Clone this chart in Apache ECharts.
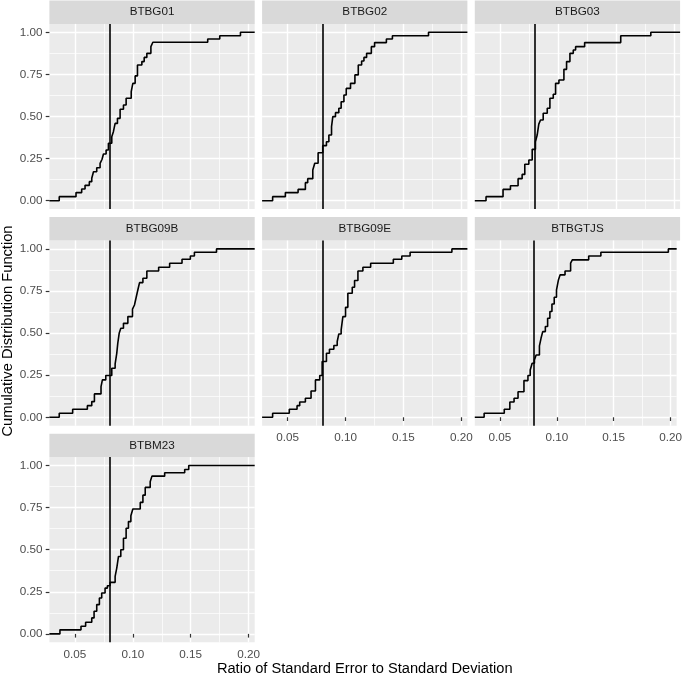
<!DOCTYPE html>
<html>
<head>
<meta charset="utf-8">
<script src="https://cdn.jsdelivr.net/npm/echarts@6/dist/echarts.min.js"></script>
<style>
html,body{margin:0;padding:0;background:#fff;}
#chart{width:685px;height:676px;}
</style>
</head>
<body>
<div id="chart"></div>
<script>
// ---- data (ECDF step positions and levels) ----
const panelNames = ['BTBG01', 'BTBG02', 'BTBG03', 'BTBG09B', 'BTBG09E', 'BTBGTJS', 'BTBM23'];
const xTicks = [0.05, 0.10, 0.15, 0.20];
const xMinorTicks = [0.075, 0.125, 0.175];
const yTicks = [0, 0.25, 0.5, 0.75, 1];
const yMinorTicks = [0.125, 0.375, 0.625, 0.875];
const refLine = 0.08;
const xLimits = [0.0279, 0.2053];
const yLimits = [-0.05, 1.05];
const xTitle = 'Ratio of Standard Error to Standard Deviation';
const yTitle = 'Cumulative Distribution Function';

const btbg01X = [0.0364,0.0509,0.0558,0.0587,0.0624,0.0645,0.066,0.0688,0.0717,0.0734,0.0746,0.0769,0.0789,0.0818,0.0832,0.0847,0.0867,0.089,0.0919,0.0942,0.0986,0.100,0.102,0.104,0.1078,0.1098,0.1121,0.1156,0.1173,0.1647,0.1751,0.193];
const btbg01Y = [0.024,0.048,0.069,0.091,0.113,0.133,0.172,0.196,0.222,0.246,0.277,0.301,0.341,0.380,0.41,0.459,0.489,0.543,0.568,0.608,0.648,0.697,0.741,0.806,0.826,0.851,0.875,0.915,0.941,0.96,0.98,1.0];

const btbg02X = [0.037,0.048,0.059,0.0653,0.0673,0.0717,0.0734,0.0763,0.0803,0.0835,0.0856,0.0879,0.089,0.0913,0.0942,0.0962,0.0986,0.1006,0.1043,0.1081,0.111,0.1139,0.1159,0.1182,0.1223,0.1251,0.1353,0.1405,0.1717];
const btbg02Y = [0.024,0.048,0.067,0.107,0.131,0.182,0.222,0.285,0.327,0.350,0.390,0.44,0.499,0.523,0.549,0.588,0.628,0.667,0.697,0.747,0.806,0.83,0.851,0.875,0.915,0.939,0.96,0.98,1.0];

const btbg03X = [0.0376,0.0523,0.0587,0.0653,0.0688,0.0711,0.0746,0.0775,0.0803,0.0818,0.0832,0.0847,0.087,0.0905,0.0928,0.0957,0.0977,0.1006,0.1049,0.1072,0.1101,0.113,0.115,0.1228,0.154,0.18];
const btbg03Y = [0.024,0.067,0.089,0.131,0.156,0.216,0.242,0.305,0.35,0.39,0.455,0.479,0.519,0.549,0.608,0.632,0.697,0.717,0.78,0.826,0.875,0.895,0.915,0.939,0.98,1.0];

const btbg09bX = [0.0364,0.048,0.0607,0.0645,0.0668,0.0725,0.0737,0.0766,0.0818,0.0847,0.0861,0.087,0.0882,0.0896,0.0919,0.0957,0.0997,0.1014,0.1029,0.1043,0.1058,0.1087,0.1121,0.1223,0.1318,0.1425,0.1497,0.1532,0.1723];
const btbg09bY = [0.024,0.048,0.069,0.093,0.139,0.182,0.222,0.248,0.291,0.317,0.38,0.44,0.499,0.529,0.558,0.598,0.642,0.667,0.713,0.756,0.8,0.826,0.869,0.891,0.915,0.939,0.958,0.98,1.0];

const btbg09eX = [0.037,0.0514,0.0581,0.0604,0.0653,0.0702,0.074,0.0777,0.0798,0.0835,0.0861,0.0899,0.0928,0.0942,0.0962,0.0977,0.1,0.102,0.1058,0.1078,0.1107,0.115,0.1217,0.1413,0.1486,0.1558,0.1919];
const btbg09eY = [0.024,0.048,0.069,0.091,0.113,0.156,0.222,0.248,0.331,0.38,0.404,0.426,0.45,0.495,0.519,0.598,0.653,0.737,0.772,0.812,0.869,0.891,0.915,0.939,0.958,0.98,1.0];

const btbgtjsX = [0.0361,0.0538,0.0587,0.0624,0.0659,0.0711,0.0746,0.0766,0.0783,0.0803,0.0818,0.0847,0.0861,0.0876,0.0899,0.0919,0.0939,0.0957,0.0977,0.0997,0.1014,0.1029,0.1072,0.1121,0.1136,0.128,0.1387,0.198];
const btbgtjsY = [0.024,0.048,0.091,0.113,0.152,0.218,0.248,0.281,0.321,0.341,0.37,0.424,0.469,0.509,0.539,0.588,0.628,0.673,0.713,0.756,0.816,0.846,0.869,0.915,0.935,0.958,0.98,1.0];

const btbm23X = [0.037,0.0552,0.0592,0.0645,0.0665,0.0688,0.0711,0.0731,0.076,0.078,0.0803,0.0847,0.0861,0.0876,0.0896,0.0919,0.0942,0.0962,0.0983,0.1,0.1064,0.1087,0.1107,0.115,0.1165,0.1275,0.1448,0.1483];
const btbm23Y = [0.024,0.045,0.069,0.095,0.134,0.174,0.213,0.243,0.272,0.286,0.306,0.341,0.391,0.46,0.5,0.568,0.627,0.667,0.702,0.742,0.781,0.824,0.87,0.903,0.937,0.957,0.976,1.0];

const panelX = [btbg01X, btbg02X, btbg03X, btbg09bX, btbg09eX, btbgtjsX, btbm23X];
const panelY = [btbg01Y, btbg02Y, btbg03Y, btbg09bY, btbg09eY, btbgtjsY, btbm23Y];

// ---- layout (ggplot facet_wrap look) ----
const FONT = '"Liberation Sans", Arial, Helvetica, sans-serif';
const colLeft = [49.4, 262.1, 474.8];
const rowTop = [23.9, 240.5, 457.1];
const panelW = 205.3, panelH = 185.2, stripH = 23.4;
const showXLabels = [false, false, false, false, true, true, true];

const grids = [], xAxes = [], yAxes = [], series = [], graphics = [];

panelNames.forEach((name, i) => {
  const col = i % 3, row = Math.floor(i / 3);
  const left = colLeft[col], top = rowTop[row];
  grids.push({
    left: left, top: top, width: panelW, height: panelH,
    show: true, backgroundColor: '#EBEBEB', borderWidth: 0, containLabel: false
  });
  const showY = col === 0;
  const showX = showXLabels[i];
  // major x axis
  xAxes.push({
    type: 'value', gridIndex: i, position: 'bottom',
    min: xLimits[0], max: xLimits[1],
    axisLine: { show: false },
    axisTick: { show: showX, customValues: xTicks, length: 3.7, lineStyle: { color: '#333333', width: 1.2 } },
    axisLabel: { show: showX, customValues: xTicks, margin: 6, fontSize: 11.7, color: '#4D4D4D', fontFamily: FONT,
                 formatter: v => v.toFixed(2) },
    splitLine: { show: true, lineStyle: { color: '#FFFFFF', width: 1.42 } }
  });
  // minor x axis (grid lines only)
  xAxes.push({
    type: 'value', gridIndex: i, position: 'top',
    min: xLimits[0], max: xLimits[1],
    axisLine: { show: false },
    axisTick: { show: false, customValues: xMinorTicks },
    axisLabel: { show: false, customValues: xMinorTicks },
    splitLine: { show: true, lineStyle: { color: '#FFFFFF', width: 0.71 } }
  });
  yAxes.push({
    type: 'value', gridIndex: i, position: 'left',
    min: yLimits[0], max: yLimits[1],
    axisLine: { show: false },
    axisTick: { show: showY, customValues: yTicks, length: 3.7, lineStyle: { color: '#333333', width: 1.2 } },
    axisLabel: { show: showY, customValues: yTicks, margin: 7, fontSize: 11.7, color: '#4D4D4D', fontFamily: FONT,
                 formatter: v => v.toFixed(2) },
    splitLine: { show: true, lineStyle: { color: '#FFFFFF', width: 1.42 } }
  });
  yAxes.push({
    type: 'value', gridIndex: i, position: 'right',
    min: yLimits[0], max: yLimits[1],
    axisLine: { show: false },
    axisTick: { show: false, customValues: yMinorTicks },
    axisLabel: { show: false, customValues: yMinorTicks },
    splitLine: { show: true, lineStyle: { color: '#FFFFFF', width: 0.71 } }
  });

  const xs = panelX[i], ys = panelY[i];
  const pts = [[xLimits[0], 0]];
  xs.forEach((x, k) => pts.push([x, ys[k]]));
  pts.push([xLimits[1], ys[ys.length - 1]]);

  series.push({
    type: 'line', name: name,
    xAxisIndex: 2 * i, yAxisIndex: 2 * i,
    data: pts, step: 'end', showSymbol: false, symbol: 'none',
    lineStyle: { color: '#000000', width: 1.6 },
    clip: true, silent: true,
    markLine: {
      silent: true, symbol: ['none', 'none'],
      label: { show: false },
      lineStyle: { color: '#000000', width: 1.6, type: 'solid' },
      data: [{ xAxis: refLine }]
    }
  });

  // facet strip
  graphics.push({
    type: 'rect', silent: true,
    shape: { x: left, y: top - stripH, width: panelW, height: stripH },
    style: { fill: '#D9D9D9' }
  });
  graphics.push({
    type: 'text', silent: true,
    x: left + panelW / 2, y: top - stripH / 2,
    style: { text: name, fontSize: 11.7, fontFamily: FONT, fill: '#1A1A1A', align: 'center', verticalAlign: 'middle' }
  });
});

graphics.push({
  type: 'text', silent: true,
  x: (colLeft[0] + colLeft[2] + panelW) / 2, y: 669,
  style: { text: xTitle, fontSize: 14.67, fontFamily: FONT, fill: '#000000', align: 'center', verticalAlign: 'middle' }
});
graphics.push({
  type: 'text', silent: true,
  x: 7.5, y: 331, rotation: Math.PI / 2,
  style: { text: yTitle, fontSize: 14.67, fontFamily: FONT, fill: '#000000', align: 'center', verticalAlign: 'middle' }
});

const chart = echarts.init(document.getElementById('chart'), null, { renderer: 'canvas' });
chart.setOption({
  animation: false,
  backgroundColor: '#FFFFFF',
  grid: grids,
  xAxis: xAxes,
  yAxis: yAxes,
  series: series,
  graphic: graphics
});
</script>
</body>
</html>
